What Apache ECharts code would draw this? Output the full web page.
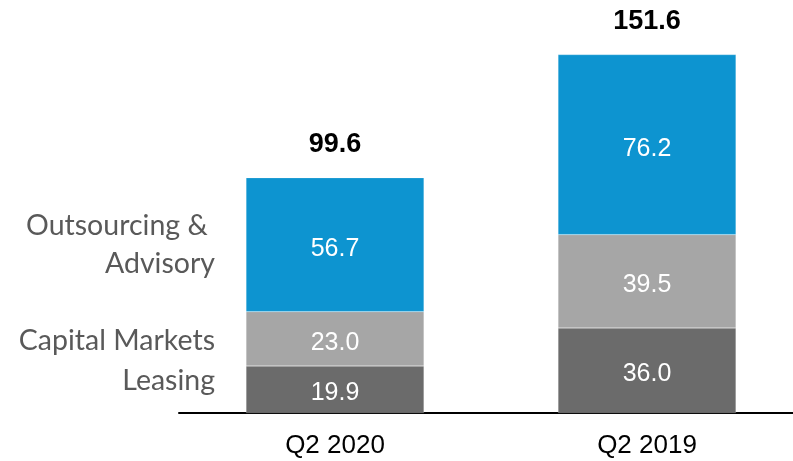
<!DOCTYPE html>
<html>
<head>
<meta charset="utf-8">
<script src="https://cdn.jsdelivr.net/npm/echarts@6/dist/echarts.min.js"></script>
<style>
  html, body { margin: 0; padding: 0; background: #ffffff; overflow: hidden; }
  #chart { width: 803px; height: 461px; }
</style>
</head>
<body>
<div id="chart"></div>
<script>
// Quarterly revenue by segment (stacked)
const quarters = ['Q2 2020', 'Q2 2019'];
const leasing = [19.9, 36.0];
const capitalMarkets = [23.0, 39.5];
const outsourcing = [56.7, 76.2];
const totals = [99.6, 151.6];
const segmentNames = ['Leasing', 'Capital Markets', 'Outsourcing & \nAdvisory'];

const colors = ['#6b6b6b', '#a6a6a6', '#0d94d0'];
const segments = [leasing, capitalMarkets, outsourcing];
// vertical nudge of each segment name beside the first column
const nameOffsets = [[0, -9], [0, 2], [0, 0]];

const BAR_W = 178;

const series = [];

// Visible stacked bars with value labels inside
segments.forEach((vals, i) => {
  series.push({
    name: segmentNames[i],
    type: 'bar',
    stack: 'revenue',
    barWidth: BAR_W,
    barGap: '-100%',
    data: vals,
    itemStyle: { color: colors[i], borderColor: 'rgba(255,255,255,0.35)', borderWidth: 0.5 },
    label: {
      show: true,
      position: 'inside',
      offset: [0, 4],
      color: '#ffffff',
      fontFamily: 'Liberation Sans, Arial, sans-serif',
      fontSize: 25,
      formatter: p => p.value.toFixed(1)
    },
    silent: true
  });
});

// Transparent twin stack carrying the segment names beside the first bar
segments.forEach((vals, i) => {
  series.push({
    type: 'bar',
    stack: 'names',
    barWidth: BAR_W,
    barGap: '-100%',
    data: vals.map((v, k) => k === 0
      ? { value: v, label: { show: true, offset: nameOffsets[i] } }
      : { value: v, label: { show: false } }),
    itemStyle: { color: 'rgba(0,0,0,0)' },
    label: {
      show: false,
      position: 'left',
      distance: 31,
      align: 'right',
      color: '#595959',
      fontFamily: 'Lato, sans-serif',
      fontSize: 28.5,
      lineHeight: 38,
      formatter: () => segmentNames[i]
    },
    silent: true,
    z: 1
  });
});

// Totals above each column
series.push({
  type: 'line',
  data: totals,
  symbol: 'circle',
  symbolSize: 0,
  itemStyle: { color: 'rgba(0,0,0,0)' },
  lineStyle: { color: 'rgba(0,0,0,0)', width: 0 },
  label: {
    show: true,
    position: 'top',
    distance: 20,
    color: '#000000',
    fontFamily: 'Liberation Sans, Arial, sans-serif',
    fontWeight: 'bold',
    fontSize: 27,
    formatter: p => p.value.toFixed(1)
  },
  silent: true,
  z: 5
});

const chart = echarts.init(document.getElementById('chart'), null, { renderer: 'canvas' });
chart.setOption({
  animation: false,
  backgroundColor: '#ffffff',
  grid: { left: 179, right: 0, top: 35, bottom: 48, containLabel: false },
  xAxis: {
    type: 'category',
    data: quarters,
    axisLine: { show: true, lineStyle: { color: '#000000', width: 2 } },
    axisTick: { show: false },
    axisLabel: {
      color: '#000000',
      fontFamily: 'Liberation Sans, Arial, sans-serif',
      fontSize: 26,
      margin: 20
    }
  },
  yAxis: {
    type: 'value',
    min: 0,
    max: 160,
    show: false,
    splitLine: { show: false }
  },
  series: series
});
</script>
</body>
</html>
